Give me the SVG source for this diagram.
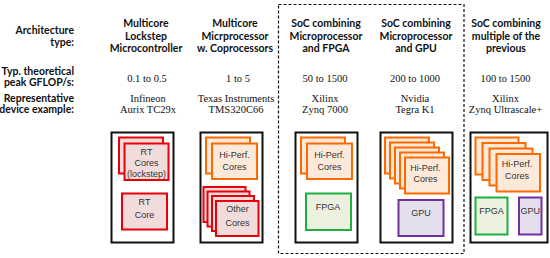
<svg xmlns="http://www.w3.org/2000/svg" width="550" height="258" viewBox="0 0 550 258">
<style>
.hdr{font-family:Lato,"Liberation Sans",Arial,sans-serif;font-weight:bold;font-size:10.5px;fill:#111}
.lbl{text-anchor:end}
.mid{text-anchor:middle}
.val{font-family:"Liberation Serif","Times New Roman",serif;font-size:10.5px;fill:#111;text-anchor:middle}
.box{fill:#fff;stroke:#111;stroke-width:2}
.red{fill:#f2dcdb;stroke:#e8000b;stroke-width:2}
.org{fill:#fde9d9;stroke:#ff6a00;stroke-width:2}
.grn{fill:#ebf1de;stroke:#1db040;stroke-width:2}
.pur{fill:#e4dfec;stroke:#7030a0;stroke-width:2}
.in{font-family:"Liberation Sans",Arial,sans-serif;font-size:9px;fill:#333;text-anchor:middle}
.dash{fill:none;stroke:#111;stroke-width:1.2;stroke-dasharray:3,2}
</style>
<rect width="550" height="258" fill="#fff"/>
<g id="row-labels">
<text class="hdr lbl" x="74" y="34">Architecture</text>
<text class="hdr lbl" x="74" y="46">type:</text>
<text class="hdr lbl" x="74" y="75">Typ. theoretical</text>
<text class="hdr lbl" x="74" y="86">peak GFLOP/s:</text>
<text class="hdr lbl" x="74" y="102">Representative</text>
<text class="hdr lbl" x="74" y="113">device example:</text>
</g>
<g id="connectors">
<rect class="dash" x="278.5" y="4.5" width="185.5" height="249"/>
</g>
<g id="col1">
<text class="hdr mid" x="146" y="27">Multicore</text>
<text class="hdr mid" x="146" y="39.5">Lockstep</text>
<text class="hdr mid" x="146" y="52">Microcontroller</text>
<text class="val" x="147" y="82">0.1 to 0.5</text>
<text class="val" x="148" y="102">Infineon</text>
<text class="val" x="148" y="113">Aurix TC29x</text>
<rect class="box" x="111.5" y="132.5" width="62" height="110"/>
<rect class="red" x="119" y="137.5" width="44" height="36"/>
<rect class="red" x="124.5" y="143.5" width="44" height="36.5"/>
<text class="in" x="146.5" y="155">RT</text>
<text class="in" x="146.5" y="166">Cores</text>
<text class="in" x="146.5" y="177">(lockstep)</text>
<rect class="red" x="122" y="193.5" width="45" height="36"/>
<text class="in" x="144.5" y="205">RT</text>
<text class="in" x="144.5" y="218">Core</text>
</g>
<g id="col2">
<text class="hdr mid" x="235" y="27">Multicore</text>
<text class="hdr mid" x="235" y="39.5">Micrprocessor</text>
<text class="hdr mid" x="235" y="52">w. Coprocessors</text>
<text class="val" x="238" y="82">1 to 5</text>
<text class="val" x="236" y="102">Texas Instruments</text>
<text class="val" x="236" y="113">TMS320C66</text>
<rect class="box" x="200.5" y="132.5" width="62" height="110"/>
<rect class="org" x="206" y="137.5" width="44" height="36"/>
<rect class="org" x="212" y="143.5" width="45" height="35.5"/>
<text class="in" x="234.5" y="158">Hi-Perf.</text>
<text class="in" x="234.5" y="170">Cores</text>
<rect class="red" x="203.5" y="187" width="42" height="35"/>
<rect class="red" x="207.5" y="191.5" width="42" height="35"/>
<rect class="red" x="212" y="196" width="42" height="35"/>
<rect class="red" x="216" y="201" width="42.5" height="35"/>
<text class="in" x="237.5" y="212">Other</text>
<text class="in" x="237.5" y="226">Cores</text>
</g>
<g id="col3">
<text class="hdr mid" x="326" y="27">SoC combining</text>
<text class="hdr mid" x="326" y="39.5">Microprocessor</text>
<text class="hdr mid" x="326" y="52">and FPGA</text>
<text class="val" x="325" y="82">50 to 1500</text>
<text class="val" x="325" y="102">Xilinx</text>
<text class="val" x="325" y="113">Zynq 7000</text>
<rect class="box" x="295.5" y="132.5" width="62" height="110"/>
<rect class="org" x="301" y="137.5" width="44" height="36"/>
<rect class="org" x="307" y="143.5" width="45" height="35.5"/>
<text class="in" x="329.5" y="158">Hi-Perf.</text>
<text class="in" x="329.5" y="170">Cores</text>
<rect class="grn" x="306" y="193.5" width="45" height="36.5"/>
<text class="in" x="328" y="210">FPGA</text>
</g>
<g id="col4">
<text class="hdr mid" x="416" y="27">SoC combining</text>
<text class="hdr mid" x="416" y="39.5">Microprocessor</text>
<text class="hdr mid" x="416" y="52">and GPU</text>
<text class="val" x="415" y="82">200 to 1000</text>
<text class="val" x="415" y="102">Nvidia</text>
<text class="val" x="415" y="113">Tegra K1</text>
<rect class="box" x="380.5" y="132.5" width="72" height="110"/>
<rect class="org" x="385" y="137.5" width="44" height="36"/>
<rect class="org" x="390" y="142.5" width="44" height="36"/>
<rect class="org" x="395" y="147.5" width="44" height="36"/>
<rect class="org" x="400" y="152.5" width="44" height="36"/>
<rect class="org" x="405" y="157.5" width="44" height="36"/>
<text class="in" x="425.5" y="171">Hi-Perf.</text>
<text class="in" x="425.5" y="182">Cores</text>
<rect class="pur" x="398.5" y="200" width="45" height="36"/>
<text class="in" x="421" y="216">GPU</text>
</g>
<g id="col5">
<text class="hdr mid" x="506" y="27">SoC combining</text>
<text class="hdr mid" x="506" y="39.5">multiple of the</text>
<text class="hdr mid" x="506" y="52">previous</text>
<text class="val" x="505.5" y="82">100 to 1500</text>
<text class="val" x="505.5" y="102">Xilinx</text>
<text class="val" x="505.5" y="113">Zynq Ultrascale+</text>
<rect class="box" x="470.5" y="132.5" width="77" height="110"/>
<rect class="org" x="475.5" y="137.5" width="43" height="37"/>
<rect class="org" x="482.5" y="143" width="43" height="37"/>
<rect class="org" x="489.5" y="148.5" width="43" height="37"/>
<rect class="org" x="496.5" y="154" width="43.5" height="37.5"/>
<text class="in" x="517" y="167">Hi-Perf.</text>
<text class="in" x="517" y="179">Cores</text>
<rect class="grn" x="475.5" y="197.5" width="32" height="37"/>
<text class="in" x="491.5" y="214">FPGA</text>
<rect class="pur" x="519" y="197.5" width="22.5" height="37"/>
<text class="in" x="530.3" y="214">GPU</text>
</g>
</svg>
